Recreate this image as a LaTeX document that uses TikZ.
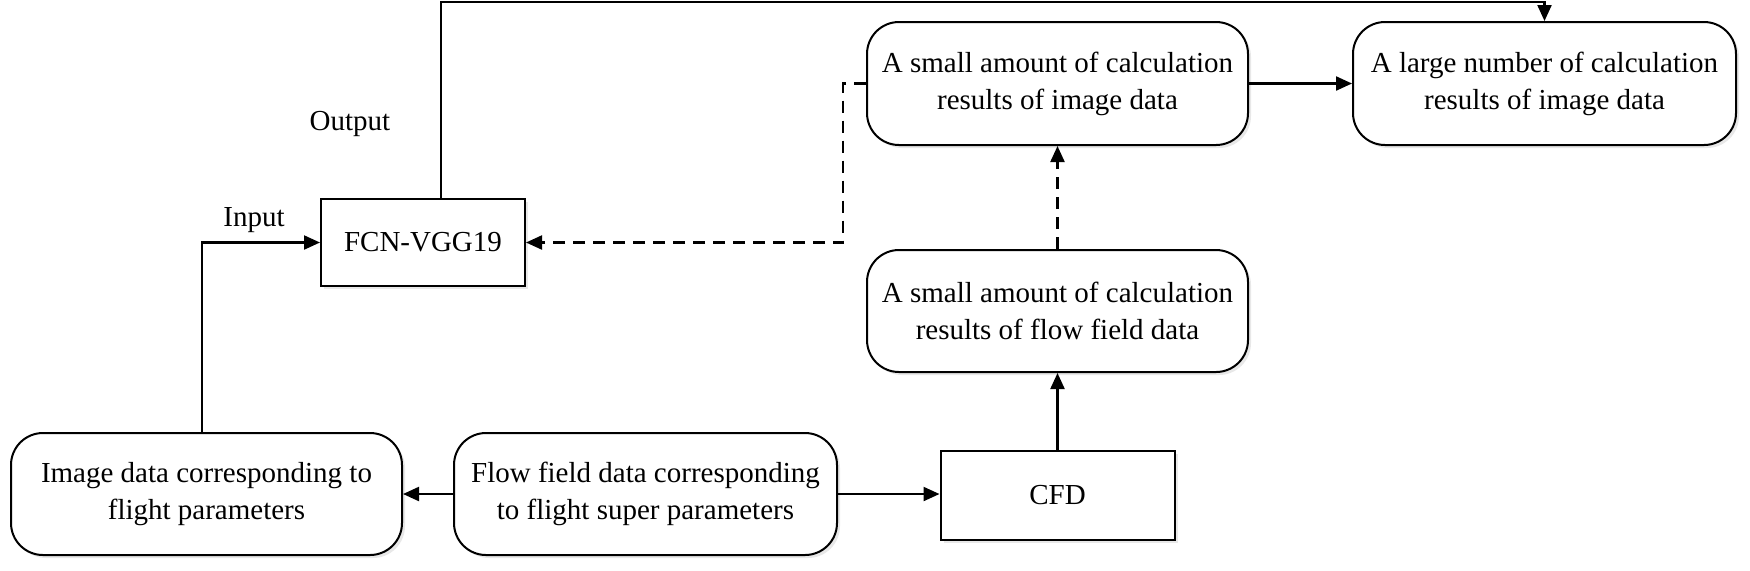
\documentclass[tikz,border=0pt]{standalone}
\usepackage{fontspec}
\setmainfont{Liberation Serif}
\usetikzlibrary{arrows.meta,shadows}
\begin{document}
\begin{tikzpicture}[x=0.5pt,y=-0.5pt,
  every node/.style={font=\fontsize{14.5}{18.5}\selectfont},
  boxbase/.style={draw, line width=1pt, align=center, inner sep=0pt, fill=white,
    drop shadow={opacity=0.18, shadow xshift=1.5pt, shadow yshift=-1.5pt}},
  rbox/.style={boxbase, rounded corners=16pt},
  sbox/.style={boxbase},
  conn/.style={line width=1.1pt, -{Triangle[length=8pt,width=7pt]}},
  dconn/.style={conn, dash pattern=on 6pt off 4pt}]
\useasboundingbox (0,0) rectangle (1750,570);

\node[sbox, minimum width=102pt, minimum height=43.5pt] (fcn) at (423,242.5) {FCN-VGG19};
\node[rbox, minimum width=190.5pt, minimum height=61.5pt] (simg) at (1057.5,83.5)
  {A small amount of calculation\\results of image data};
\node[rbox, minimum width=191.5pt, minimum height=61.5pt] (limg) at (1544.5,83.5)
  {A large number of calculation\\results of image data};
\node[rbox, minimum width=190.5pt, minimum height=61pt] (sflow) at (1057.5,311)
  {A small amount of calculation\\results of flow field data};
\node[sbox, minimum width=117pt, minimum height=44.5pt] (cfd) at (1057.5,495.5) {CFD};
\node[rbox, minimum width=195.5pt, minimum height=61pt] (imgdata) at (206.5,494)
  {Image data corresponding to\\flight parameters};
\node[rbox, minimum width=191.5pt, minimum height=61pt] (flowdata) at (645.5,494)
  {Flow field data corresponding\\to flight super parameters};

\node (outlbl) at (350,124) {Output};
\node (inlbl) at (254,220) {Input};

\coordinate (tl) at (441,2);
\coordinate (tr) at (limg.north |- 0,2);
\draw[conn] (fcn.north -| tl) -- (tl) -- (tr) -- (limg.north);
\draw[conn] (simg) -- (limg);
\coordinate (d1) at (843,83.5);
\coordinate (d2) at (843,242.5);
\draw[dconn] (simg.west) -- (d1) -- (d2) -- (fcn.east);
\draw[dconn] (sflow.north) -- (simg.south);
\draw[conn] (cfd.north) -- (sflow.south);
\draw[conn] (flowdata) -- (imgdata);
\draw[conn] (flowdata.east) -- (cfd.west |- flowdata.east);
\coordinate (i1) at (202,242.5);
\draw[conn] (imgdata.north -| i1) -- (i1) -- (fcn.west);
\end{tikzpicture}
\end{document}
